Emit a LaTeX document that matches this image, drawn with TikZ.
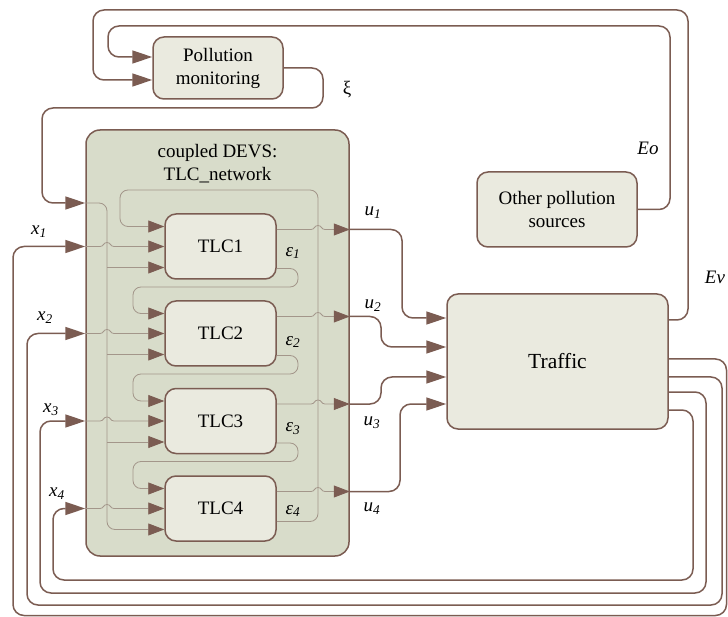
\documentclass[tikz,border=0pt]{standalone}
\usepackage{fontspec}
\setmainfont{Liberation Serif}
\usepackage{xcolor}
\usepackage{tikz}
\usetikzlibrary{arrows.meta}
\usetikzlibrary{positioning}

\definecolor{linebrown}{HTML}{7B5C52}
\definecolor{linegrey}{HTML}{A3968A}
\definecolor{boxfill}{HTML}{EAEADF}
\definecolor{netfill}{HTML}{D8DCCA}

\begin{document}
\begin{tikzpicture}[x=1pt,y=-1pt,
  main node/.style={rectangle,rounded corners=11pt,draw=linebrown,line width=1.5pt,
    fill=boxfill,inner sep=0pt,align=center,font=\fontsize{19}{23}\selectfont},
  tlc node/.style={main node,minimum width=111pt,minimum height=65pt},
  net node/.style={rectangle,rounded corners=14pt,draw=linebrown,line width=1.5pt,
    fill=netfill,minimum width=263pt,minimum height=426pt},
  outer line/.style={draw=linebrown,line width=1.5pt,rounded corners=11pt,
    -{Triangle[length=20pt,width=13pt]}},
  inner line/.style={draw=linegrey,line width=0.8pt,rounded corners=8pt,
    -{Triangle[length=16pt,width=12pt,color=linebrown]}},
  hop line/.style={inner line,sharp corners},
  port label/.style={font=\fontsize{19}{23}\selectfont\itshape}]

  \useasboundingbox (0,0) rectangle (728,617);

  \node[net node] (net) at (217.5,343) {};
  \node[align=center,font=\fontsize{19}{23}\selectfont] (title) at (217.5,164)
    {coupled DEVS:\\TLC\_network};

  \node[main node,minimum width=130pt,minimum height=62pt] (pm) at (218,68) {Pollution\\monitoring};
  \node[main node,minimum width=160pt,minimum height=75pt] (ops) at (557,209.5) {Other pollution\\sources};
  \node[main node,minimum width=221pt,minimum height=135pt,
    font=\fontsize{21.5}{25}\selectfont] (tr) at (557.5,361.5) {Traffic};

  \node[tlc node] (t1) at (220.5,246.5) {TLC1};
  \node[tlc node] (t2) at (220.5,333.5) {TLC2};
  \node[tlc node] (t3) at (220.5,421) {TLC3};
  \node[tlc node] (t4) at (220.5,508.5) {TLC4};

  \coordinate (b1) at (107,267.5);
  \coordinate (b2) at (107,354.5);
  \coordinate (b3) at (107,442);

  \draw[outer line] (tr.east|-0,320) -- (688,320) -- (688,10) -- (93,10) -- (93,80) -- (pm.west|-0,80);
  \draw[outer line] (ops.east) -- (670,209.5) -- (670,26) -- (108,26) -- (108,57) -- (pm.west|-0,57);
  \draw[outer line] (pm.east) -- (323,68) -- (323,108) -- (42,108) -- (42,203) -- (net.west|-0,203);

  \draw[outer line] (net.east|-0,229.5) -- (402,229.5) -- (402,318) -- (tr.west|-0,318);
  \draw[outer line] (net.east|-0,316.5) -- (381,316.5) -- (381,347) -- (tr.west|-0,347);
  \draw[outer line] (net.east|-0,404) -- (381,404) -- (381,377) -- (tr.west|-0,377);
  \draw[outer line] (net.east|-0,491.5) -- (400,491.5) -- (400,404) -- (tr.west|-0,404);

  \draw[outer line] (tr.east|-0,359) -- (726.5,359) -- (726.5,615.5) -- (13,615.5) -- (13,246.5) -- (net.west|-t1.west);
  \draw[outer line] (tr.east|-0,377) -- (722,377) -- (722,605) -- (27,605) -- (27,333.5) -- (net.west|-t2.west);
  \draw[outer line] (tr.east|-0,392) -- (706,392) -- (706,593) -- (40,593) -- (40,421) -- (net.west|-t3.west);
  \draw[outer line] (tr.east|-0,410) -- (693,410) -- (693,580) -- (53,580) -- (53,508.5) -- (net.west|-t4.west);

  \draw[inner line] (net.west|-0,203) -- (107,203) -- (107,529.5) -- (t4.west|-0,529.5);
  \draw[inner line] (b1) -- (t1.west|-b1);
  \draw[inner line] (b2) -- (t2.west|-b2);
  \draw[inner line] (b3) -- (t3.west|-b3);

  \draw[hop line] (net.west|-t1.west) -- (100,246.5) .. controls (104,246.5) and (103,242.5) .. (107,242.5) .. controls (111,242.5) and (110,246.5) .. (114,246.5) -- (t1.west);
  \draw[hop line] (net.west|-t2.west) -- (100,333.5) .. controls (104,333.5) and (103,329.5) .. (107,329.5) .. controls (111,329.5) and (110,333.5) .. (114,333.5) -- (t2.west);
  \draw[hop line] (net.west|-t3.west) -- (100,421) .. controls (104,421) and (103,417) .. (107,417) .. controls (111,417) and (110,421) .. (114,421) -- (t3.west);
  \draw[hop line] (net.west|-t4.west) -- (100,508.5) .. controls (104,508.5) and (103,504.5) .. (107,504.5) .. controls (111,504.5) and (110,508.5) .. (114,508.5) -- (t4.west);

  \draw[inner line] (t1.east|-0,268.5) -- (298,268.5) -- (298,287) -- (133,287) -- (133,313.5) -- (t2.west|-0,313.5);
  \draw[inner line] (t2.east|-0,355.5) -- (298,355.5) -- (298,374) -- (133,374) -- (133,401) -- (t3.west|-0,401);
  \draw[inner line] (t3.east|-0,443) -- (298,443) -- (298,461.5) -- (133,461.5) -- (133,488.5) -- (t4.west|-0,488.5);
  \draw[inner line] (t4.east|-0,521.5) -- (318,521.5) -- (318,190) -- (120,190) -- (120,226.5) -- (t1.west|-0,226.5);

  \draw[hop line] (t1.east|-0,229.5) -- (311,229.5) .. controls (315,229.5) and (314,225.5) .. (318,225.5) .. controls (322,225.5) and (321,229.5) .. (325,229.5) -- (net.east|-0,229.5);
  \draw[hop line] (t2.east|-0,316.5) -- (311,316.5) .. controls (315,316.5) and (314,312.5) .. (318,312.5) .. controls (322,312.5) and (321,316.5) .. (325,316.5) -- (net.east|-0,316.5);
  \draw[hop line] (t3.east|-0,404) -- (311,404) .. controls (315,404) and (314,400) .. (318,400) .. controls (322,400) and (321,404) .. (325,404) -- (net.east|-0,404);
  \draw[hop line] (t4.east|-0,491.5) -- (311,491.5) .. controls (315,491.5) and (314,487.5) .. (318,487.5) .. controls (322,487.5) and (321,491.5) .. (325,491.5) -- (net.east|-0,491.5);

  \node[port label] (lxi) at (347,90) {\upshape ξ};
  \node[port label] (leo) at (648,148) {Eo};
  \node[port label] (lev) at (715,277) {Ev};

  \node[port label] (lu1) at (373,213) {u\textsubscript{1}};
  \node[port label] (lu2) at (373,306) {u\textsubscript{2}};
  \node[port label] (lu3) at (372,423) {u\textsubscript{3}};
  \node[port label] (lu4) at (372,509) {u\textsubscript{4}};

  \node[port label] (le1) at (293,253) {ε\textsubscript{1}};
  \node[port label] (le2) at (293,342) {ε\textsubscript{2}};
  \node[port label] (le3) at (293,429) {ε\textsubscript{3}};
  \node[port label] (le4) at (293,511) {ε\textsubscript{4}};

  \node[port label] (lx1) at (39,232) {x\textsubscript{1}};
  \node[port label] (lx2) at (45,318) {x\textsubscript{2}};
  \node[port label] (lx3) at (51,410) {x\textsubscript{3}};
  \node[port label] (lx4) at (57,494) {x\textsubscript{4}};
\end{tikzpicture}
\end{document}
